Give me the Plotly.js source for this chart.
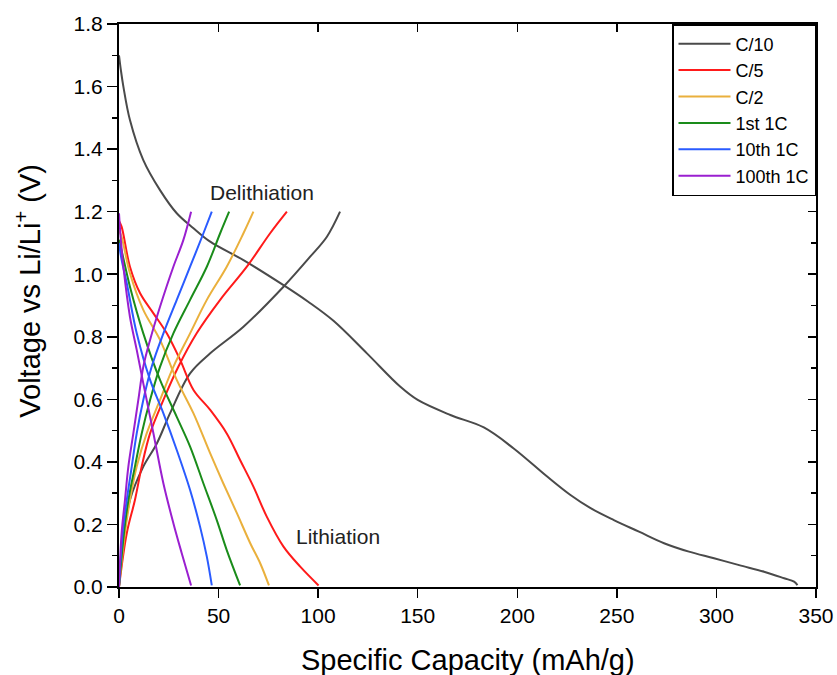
<!DOCTYPE html>
<html>
<head>
<meta charset="utf-8">
<script src="https://cdn.plot.ly/plotly-3.0.1.min.js"></script>
<style>html,body{margin:0;padding:0;background:#fff;}#chart{width:837px;height:675px;}</style>
</head>
<body>
<div id="chart"></div>
<script>
// C/10
const c10DisCap = [0, 1, 2.2, 5.5, 12.2, 20.6, 29, 37.4, 45.8, 62.5, 82.6, 95, 107.7, 124.5, 141.3, 150, 166.4, 183.2, 198.2, 215, 226.7, 236.8, 248.5, 261.1, 273.7, 286.2, 298.8, 311.4, 323.9, 334, 339, 340.7];
const c10DisV   = [1.70, 1.65, 1.60, 1.493, 1.365, 1.269, 1.195, 1.147, 1.104, 1.045, 0.965, 0.912, 0.851, 0.747, 0.640, 0.598, 0.550, 0.510, 0.443, 0.353, 0.294, 0.252, 0.214, 0.177, 0.140, 0.113, 0.092, 0.070, 0.049, 0.028, 0.017, 0.006];
const c10ChCap  = [0, 1, 2.2, 5.5, 12.2, 19, 25.6, 35.7, 45.8, 62.5, 82.6, 96, 104.4, 111];
const c10ChV    = [0.005, 0.08, 0.15, 0.278, 0.385, 0.459, 0.555, 0.683, 0.747, 0.832, 0.960, 1.056, 1.12, 1.20];
// C/5
const c5DisCap = [0, 1.3, 5.5, 10.6, 17.3, 24, 30.7, 37.4, 45.8, 54.1, 60.8, 67.5, 74.2, 82.6, 91, 100.2];
const c5DisV   = [1.17, 1.152, 1.024, 0.939, 0.875, 0.811, 0.726, 0.63, 0.566, 0.491, 0.406, 0.321, 0.225, 0.129, 0.065, 0.005];
const c5ChCap  = [0, 3.9, 8, 11.4, 15.6, 22.3, 29.8, 39, 50.8, 64.2, 75.9, 84.3];
const c5ChV    = [0, 0.172, 0.278, 0.385, 0.491, 0.598, 0.704, 0.811, 0.918, 1.024, 1.131, 1.20];
// C/2
const c2DisCap = [0, 1.3, 5.5, 12.2, 20.6, 29, 37.4, 45.8, 52.4, 59.2, 65.9, 70.9, 75.3];
const c2DisV   = [1.14, 1.12, 1.003, 0.886, 0.79, 0.662, 0.555, 0.427, 0.331, 0.236, 0.140, 0.076, 0.005];
const c2ChCap  = [0, 3, 5.5, 8.9, 13.9, 20.6, 27.3, 35.7, 44.1, 54.1, 62.5, 67.5];
const c2ChV    = [0, 0.172, 0.278, 0.385, 0.491, 0.598, 0.704, 0.811, 0.918, 1.024, 1.131, 1.20];
// 1st 1C
const c1aDisCap = [0, 1.5, 5.5, 12.2, 20.6, 29, 35.7, 42.4, 49.1, 54.1, 60.8];
const c1aDisV   = [1.11, 1.07, 0.96, 0.811, 0.662, 0.544, 0.449, 0.331, 0.214, 0.118, 0.005];
const c1aChCap  = [0, 2.5, 4.7, 8, 11.4, 15.6, 20.6, 27.3, 35.7, 44.1, 50.8, 55.3];
const c1aChV    = [0, 0.172, 0.278, 0.385, 0.491, 0.598, 0.704, 0.811, 0.918, 1.024, 1.131, 1.20];
// 10th 1C
const c1bDisCap = [0, 1.2, 3.9, 8.9, 15.6, 22.3, 29, 35.7, 40.7, 44.1, 46.6];
const c1bDisV   = [1.10, 1.05, 0.971, 0.811, 0.662, 0.555, 0.438, 0.31, 0.193, 0.097, 0.005];
const c1bChCap  = [0, 1.8, 3.9, 6.4, 8.9, 12.2, 16.4, 22.3, 29, 35.7, 42.4, 46.6];
const c1bChV    = [0, 0.172, 0.278, 0.385, 0.491, 0.598, 0.704, 0.811, 0.918, 1.024, 1.131, 1.20];
// 100th 1C
const c1cDisCap = [0, 0.8, 2.2, 5.5, 8.9, 12.2, 17.3, 22.3, 27.3, 31.5, 36.2];
const c1cDisV   = [1.195, 1.12, 1.024, 0.864, 0.758, 0.651, 0.491, 0.331, 0.204, 0.108, 0.005];
const c1cChCap  = [0, 1.3, 3, 4.7, 7.2, 9.7, 12.2, 15.6, 20.6, 27.3, 32.3, 36.2];
const c1cChV    = [0, 0.172, 0.278, 0.385, 0.491, 0.598, 0.704, 0.79, 0.896, 1.024, 1.109, 1.20];

const names  = ['C/10', 'C/5', 'C/2', '1st 1C', '10th 1C', '100th 1C'];
const colors = ['#4a4a4a', '#ff1a1a', '#eab03c', '#1a8c1a', '#2a5bff', '#9a1fd0'];
const xTitle = 'Specific Capacity (mAh/g)';
const yTitle = 'Voltage vs Li/Li<sup>+</sup> (V)';
const sets = [
  [c10DisCap, c10DisV, c10ChCap, c10ChV],
  [c5DisCap, c5DisV, c5ChCap, c5ChV],
  [c2DisCap, c2DisV, c2ChCap, c2ChV],
  [c1aDisCap, c1aDisV, c1aChCap, c1aChV],
  [c1bDisCap, c1bDisV, c1bChCap, c1bChV],
  [c1cDisCap, c1cDisV, c1cChCap, c1cChV]
];

const traces = [];
sets.forEach((s, i) => {
  traces.push({x: s[0], y: s[1], mode: 'lines', name: names[i], legendgroup: names[i],
    line: {color: colors[i], width: 2, shape: 'spline', smoothing: 1}, hoverinfo: 'skip'});
  traces.push({x: s[2], y: s[3], mode: 'lines', name: names[i], legendgroup: names[i], showlegend: false,
    line: {color: colors[i], width: 2, shape: 'spline', smoothing: 1}, hoverinfo: 'skip'});
});
// invisible copy on the mirror axes so the top/right frame axes get their ticks
traces.push({x: c10DisCap, y: c10DisV, xaxis: 'x2', yaxis: 'y2', showlegend: false, hoverinfo: 'skip', mode: 'lines',
  line: {color: 'rgba(0,0,0,0)', width: 0}});

const font = 'Arial, "Liberation Sans", sans-serif';
const layout = {
  width: 837, height: 675,
  margin: {l: 119, r: 21, t: 24, b: 88},
  paper_bgcolor: '#fff', plot_bgcolor: '#fff',
  font: {family: font, color: '#000', size: 21},
  showlegend: true,
  legend: {x: 1, y: 1, xanchor: 'right', yanchor: 'top', bordercolor: '#000', borderwidth: 1.5,
    bgcolor: '#fff', font: {family: font, size: 18, color: '#000'}, itemwidth: 52, tracegroupgap: 0},
  xaxis: {range: [0, 350], dtick: 50, tick0: 0, ticks: 'outside', ticklen: 9, tickwidth: 1.5, tickcolor: '#000',
    showline: true, linecolor: '#000', linewidth: 2, showgrid: false, zeroline: false,
    tickfont: {family: font, size: 21, color: '#000'}},
  yaxis: {range: [0, 1.8], dtick: 0.2, tick0: 0, tickformat: '.1f', ticks: 'outside', ticklen: 10, tickwidth: 1.5, tickcolor: '#000',
    minor: {dtick: 0.1, ticks: 'outside', ticklen: 5, tickwidth: 1.5, tickcolor: '#000'},
    showline: true, linecolor: '#000', linewidth: 2, showgrid: false, zeroline: false,
    tickfont: {family: font, size: 21, color: '#000'}},
  xaxis2: {range: [0, 350], dtick: 50, tick0: 0, overlaying: 'x', side: 'top', anchor: 'y2', ticks: 'inside', ticklen: 8, tickwidth: 1.5,
    tickcolor: '#000', showline: true, linecolor: '#000', linewidth: 2, showgrid: false, zeroline: false, showticklabels: false},
  yaxis2: {range: [0, 1.8], dtick: 0.2, tick0: 0, overlaying: 'y', side: 'right', anchor: 'x2', ticks: 'inside', ticklen: 8, tickwidth: 1.5,
    tickcolor: '#000', minor: {dtick: 0.1, ticks: 'inside', ticklen: 5, tickwidth: 1.5, tickcolor: '#000'},
    showline: true, linecolor: '#000', linewidth: 2, showgrid: false, zeroline: false, showticklabels: false},
  annotations: [
    {text: xTitle, xref: 'paper', yref: 'paper', x: 0.5, y: -0.13, xanchor: 'center', yanchor: 'middle', showarrow: false,
      font: {family: font, size: 29, color: '#000'}},
    {text: yTitle, xref: 'paper', yref: 'paper', x: -0.13, y: 0.527, xanchor: 'center', yanchor: 'middle', textangle: -90, showarrow: false,
      font: {family: font, size: 29, color: '#000'}},
    {text: 'Delithiation', x: 72, y: 1.26, xref: 'x', yref: 'y', showarrow: false, font: {family: font, size: 21, color: '#222'}},
    {text: 'Lithiation', x: 110, y: 0.16, xref: 'x', yref: 'y', showarrow: false, font: {family: font, size: 21, color: '#222'}}
  ]
};

Plotly.newPlot('chart', traces, layout, {displayModeBar: false, staticPlot: true});
</script>
</body>
</html>
